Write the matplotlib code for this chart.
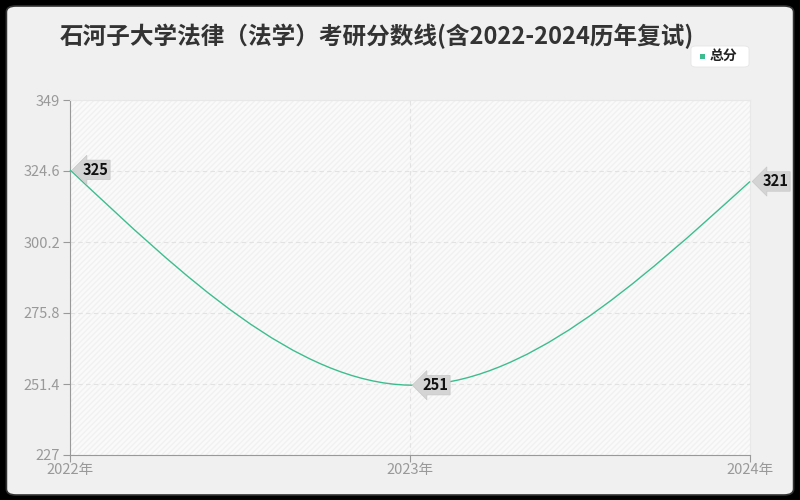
import matplotlib.pyplot as plt
from matplotlib.patches import FancyBboxPatch, Rectangle, PathPatch
from matplotlib.path import Path

plt.rcParams['font.family'] = ['Noto Sans CJK SC', 'DejaVu Sans']

# dati
anni = ['2022年', '2023年', '2024年']
punteggi = [325, 251, 321]
y_ticks = [227, 251.4, 275.8, 300.2, 324.6, 349]
titolo = '石河子大学法律（法学）考研分数线(含2022-2024历年复试)'
legenda = '总分'

colore = '#3dbd8f'

fig = plt.figure(figsize=(8, 5), dpi=100)
fig.patch.set_facecolor('black')
fig.patches.append(FancyBboxPatch((0.008, 0.01), 0.984, 0.978, boxstyle='round,pad=0,rounding_size=0.012',
                                  transform=fig.transFigure, facecolor='#f0f0f0', edgecolor='#333333',
                                  linewidth=1.2, zorder=-10))

ax = fig.add_axes([70 / 800, 45 / 500, 680 / 800, 355 / 500])
ax.set_facecolor('#fafafa')
ax.add_patch(Rectangle((0, 0), 1, 1, transform=ax.transAxes, facecolor='none',
                       edgecolor='#f1f1f1', hatch='//////', linewidth=0, zorder=0))

x = list(range(len(anni)))
ax.set_xlim(0, 2)
ax.set_ylim(227, 349)

# curva liscia: spline cubica naturale disegnata come bezier
M1 = 6 * (punteggi[0] - 2 * punteggi[1] + punteggi[2]) / 4
pend = [(punteggi[1] - punteggi[0]) - M1 / 6,
        (punteggi[1] - punteggi[0]) + M1 / 3,
        (punteggi[2] - punteggi[1]) + M1 / 6]
verts = [(x[0], punteggi[0])]
for i in range(2):
    verts += [(x[i] + 1 / 3, punteggi[i] + pend[i] / 3),
              (x[i + 1] - 1 / 3, punteggi[i + 1] - pend[i + 1] / 3),
              (x[i + 1], punteggi[i + 1])]
codes = [Path.MOVETO] + [Path.CURVE4] * 6
ax.add_patch(PathPatch(Path(verts, codes), facecolor='none', edgecolor=colore, linewidth=1, zorder=3, clip_on=False))

# etichette
for xi, v in zip(x, punteggi):
    ax.annotate(str(v), (xi, v), xytext=(9, 0), textcoords='offset points', ha='left', va='center',
                fontsize=10.5, fontweight='bold', color='#111111', zorder=5, annotation_clip=False,
                bbox=dict(boxstyle='larrow,pad=0.12', facecolor='#d4d4d4', edgecolor='#c8c8c8', linewidth=0.5))

ax.set_xticks(x)
ax.set_xticklabels(anni)
ax.set_yticks(y_ticks)
ax.set_yticklabels(['227', '251.4', '275.8', '300.2', '324.6', '349'])
ax.tick_params(colors='#999999', labelsize=10.5, length=5, width=0.8)
ax.tick_params(axis='x', pad=1)
ax.tick_params(axis='y', pad=2)
ax.grid(True, linestyle=(0, (4, 3)), color='#e2e2e2', linewidth=0.8)
for lato in ['top', 'right']:
    ax.spines[lato].set_color('#e8e8e8')
for lato in ['left', 'bottom']:
    ax.spines[lato].set_color('#999999')

fig.text(377 / 800, 1 - 36 / 500, titolo, ha='center', va='center', fontsize=17,
         fontweight='bold', color='#333333')

# legenda
fig.patches.append(FancyBboxPatch((691 / 800, 1 - 67 / 500), 58 / 800, 21 / 500,
                                  boxstyle='round,pad=0,rounding_size=0.006', transform=fig.transFigure,
                                  facecolor='white', edgecolor='#e6e6e6', linewidth=0.6))
fig.patches.append(Rectangle((700 / 800, 1 - 59 / 500), 5 / 800, 5 / 500, transform=fig.transFigure,
                             facecolor=colore, edgecolor='none'))
fig.text(710 / 800, 1 - 56 / 500, legenda, ha='left', va='center', fontsize=10, fontweight='bold',
         color='#222222')

fig.savefig('out.png', dpi=100, facecolor=fig.get_facecolor())
